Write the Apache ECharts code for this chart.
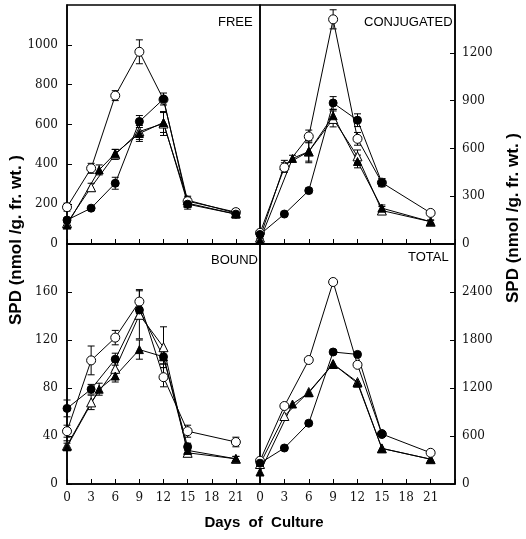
<!DOCTYPE html>
<html>
<head>
<meta charset="utf-8">
<script src="https://cdn.jsdelivr.net/npm/echarts@6/dist/echarts.min.js"></script>
<style>
html,body{margin:0;padding:0;background:#fff;}
#chart{width:526px;height:539px;}
</style>
</head>
<body>
<div id="chart"></div>
<script>
// ---- data ----
const days = [0, 3, 6, 9, 12, 15, 21];
const daysFilledTriangle = [0, 4, 6, 9, 12, 15, 21];
const xTickLabels = ['0', '3', '6', '9', '12', '15', '18', '21'];

// FREE
const freeOpenCircle = [185, 380, 745, 965, 725, 215, 160];
const freeOpenCircleErr = [20, 25, 25, 60, 0, 20, 15];
const freeFilledCircle = [120, 180, 305, 615, 728, 200, 150];
const freeFilledCircleErr = [10, 5, 30, 30, 30, 25, 10];
const freeOpenTriangle = [105, 285, 450, 565, 605, 220, 155];
const freeOpenTriangleErr = [15, 20, 25, 40, 60, 20, 10];
const freeFilledTriangle = [95, 372, 455, 555, 610, 205, 150];
const freeFilledTriangleErr = [10, 25, 20, 40, 50, 20, 10];

// CONJUGATED
const conjOpenCircle = [70, 480, 675, 1410, 660, 385, 195];
const conjOpenCircleErr = [15, 30, 40, 60, 40, 25, 10];
const conjFilledCircle = [60, 188, 335, 885, 777, 385, null];
const conjFilledCircleErr = [10, 15, 15, 40, 40, 25, 0];
const conjOpenTriangle = [40, 495, 580, 785, 550, 210, 140];
const conjOpenTriangleErr = [10, 30, 70, 50, 40, 25, 10];
const conjFilledTriangle = [25, 537, 580, 805, 518, 225, 140];
const conjFilledTriangleErr = [10, 20, 60, 40, 40, 20, 10];

// BOUND
const boundOpenCircle = [44, 103, 122, 152, 89, 44, 35];
const boundOpenCircleErr = [5, 12, 6, 10, 8, 5, 4];
const boundFilledCircle = [63, 79, 104, 145, 106, 31, null];
const boundFilledCircleErr = [7, 4, 5, 6, 6, 3, 0];
const boundOpenTriangle = [32, 68, 96, 141, 114, 26, 21];
const boundOpenTriangleErr = [4, 6, 8, 20, 17, 3, 2];
const boundFilledTriangle = [31, 79, 90, 112, 106, 28, 21];
const boundFilledTriangleErr = [3, 5, 5, 8, 6, 3, 2];

// TOTAL
const totalOpenCircle = [290, 975, 1550, 2525, 1490, 625, 390];
const totalFilledCircle = [260, 450, 760, 1650, 1620, 625, null];
const totalOpenTriangle = [250, 850, 1150, 1500, 1275, 445, 310];
const totalFilledTriangle = [150, 1000, 1140, 1500, 1260, 445, 310];

// axis ranges / ticks
const yFree = { max: 1200, interval: 200 };
const yConj = { max: 1500, interval: 300 };
const yBound = { max: 200, interval: 40 };
const yTotal = { max: 3000, interval: 600 };

// ---- chart ----
const chart = echarts.init(document.getElementById('chart'), null, { renderer: 'canvas' });

const grids = [
  { left: 67, top: 5, width: 193, height: 239 },
  { left: 260, top: 5, width: 195, height: 239 },
  { left: 67, top: 244, width: 193, height: 240 },
  { left: 260, top: 244, width: 195, height: 240 }
].map(g => Object.assign({ show: true, borderColor: '#000', borderWidth: 1.5, backgroundColor: 'transparent' }, g));

const tickFont = { fontFamily: 'DejaVu Serif', fontSize: 12, color: '#111' };

const xAxes = grids.map((g, i) => ({
  type: 'value', gridIndex: i, min: 0, max: 24, interval: 3,
  axisLine: { show: true, onZero: false, lineStyle: { color: '#000', width: 1.5 } },
  axisTick: { show: true, inside: true, length: 5, lineStyle: { color: '#000', width: 1 } },
  splitLine: { show: false },
  axisLabel: Object.assign({
    show: i >= 2, margin: 8,
    formatter: v => (v === 24 ? '' : String(v))
  }, tickFont)
}));

const yDefs = [yFree, yConj, yBound, yTotal];
const yAxes = yDefs.map((d, i) => ({
  type: 'value', gridIndex: i, min: 0, max: d.max, interval: d.interval,
  position: (i % 2 === 0) ? 'left' : 'right',
  axisLine: { show: true, onZero: false, lineStyle: { color: '#000', width: 1.5 } },
  axisTick: { show: true, inside: true, length: 5, lineStyle: { color: '#000', width: 1 } },
  splitLine: { show: false },
  axisLabel: Object.assign({
    showMaxLabel: false, margin: (i % 2 === 0) ? 9 : 7,
    formatter: v => String(v)
  }, tickFont)
}));

const styles = {
  openCircle: { symbol: 'circle', symbolSize: 9, fill: '#fff' },
  filledCircle: { symbol: 'circle', symbolSize: 8, fill: '#000' },
  openTriangle: { symbol: 'triangle', symbolSize: 9, fill: '#fff' },
  filledTriangle: { symbol: 'triangle', symbolSize: 8, fill: '#000' }
};

const panels = [
  { // FREE
    openTriangle: [freeOpenTriangle, freeOpenTriangleErr],
    filledTriangle: [freeFilledTriangle, freeFilledTriangleErr],
    openCircle: [freeOpenCircle, freeOpenCircleErr],
    filledCircle: [freeFilledCircle, freeFilledCircleErr]
  },
  { // CONJUGATED
    openTriangle: [conjOpenTriangle, conjOpenTriangleErr],
    filledTriangle: [conjFilledTriangle, conjFilledTriangleErr],
    openCircle: [conjOpenCircle, conjOpenCircleErr],
    filledCircle: [conjFilledCircle, conjFilledCircleErr]
  },
  { // BOUND
    openTriangle: [boundOpenTriangle, boundOpenTriangleErr],
    filledTriangle: [boundFilledTriangle, boundFilledTriangleErr],
    openCircle: [boundOpenCircle, boundOpenCircleErr],
    filledCircle: [boundFilledCircle, boundFilledCircleErr]
  },
  { // TOTAL
    openTriangle: [totalOpenTriangle, null],
    filledTriangle: [totalFilledTriangle, null],
    openCircle: [totalOpenCircle, null],
    filledCircle: [totalFilledCircle, null]
  }
];

function errorBarRender(params, api) {
  const x = api.value(0), y = api.value(1), e = api.value(2);
  const lo = api.coord([x, y - e]);
  const hi = api.coord([x, y + e]);
  const w = 3.5;
  const st = { stroke: '#000', lineWidth: 1 };
  return {
    type: 'group',
    children: [
      { type: 'line', shape: { x1: lo[0], y1: lo[1], x2: hi[0], y2: hi[1] }, style: st },
      { type: 'line', shape: { x1: lo[0] - w, y1: lo[1], x2: lo[0] + w, y2: lo[1] }, style: st },
      { type: 'line', shape: { x1: hi[0] - w, y1: hi[1], x2: hi[0] + w, y2: hi[1] }, style: st }
    ]
  };
}

const series = [];
panels.forEach((p, i) => {
  Object.keys(p).forEach(key => {
    const [vals, errs] = p[key];
    const xs = key === 'filledTriangle' ? daysFilledTriangle : days;
    const s = styles[key];
    if (errs) {
      const ed = [];
      vals.forEach((v, k) => { if (v != null && errs[k] > 0) ed.push([xs[k], v, errs[k]]); });
      series.push({
        type: 'custom', xAxisIndex: i, yAxisIndex: i, z: 1, silent: true,
        renderItem: errorBarRender, encode: { x: 0, y: 1 }, data: ed
      });
    }
    series.push({
      type: 'line', xAxisIndex: i, yAxisIndex: i, z: 3,
      symbol: s.symbol, symbolSize: s.symbolSize, showAllSymbol: true,
      connectNulls: false, animation: false, silent: true,
      lineStyle: { color: '#000', width: 1 },
      itemStyle: { color: s.fill, borderColor: '#000', borderWidth: 1 },
      data: vals.map((v, k) => [xs[k], v])
    });
  });
});

const yTitle = 'SPD (nmol /g. fr. wt. )';
const titleFont = { fontFamily: 'Liberation Sans, Arial, sans-serif', fontWeight: 'bold', fill: '#000' };
const panelFont = 'normal 13px Liberation Sans, Arial, sans-serif';

const option = {
  backgroundColor: '#fff',
  animation: false,
  grid: grids,
  xAxis: xAxes,
  yAxis: yAxes,
  series: series,
  graphic: [
    { type: 'text', left: 218, top: 16, style: { text: 'FREE', font: panelFont, fill: '#000' } },
    { type: 'text', left: 364, top: 16, style: { text: 'CONJUGATED', font: panelFont, fill: '#000' } },
    { type: 'text', left: 211, top: 254, style: { text: 'BOUND', font: panelFont, fill: '#000' } },
    { type: 'text', left: 408, top: 251, style: { text: 'TOTAL', font: panelFont, fill: '#000' } },
    { type: 'text', x: 16, y: 240, rotation: Math.PI / 2,
      style: Object.assign({ text: yTitle, fontSize: 17, align: 'center', verticalAlign: 'middle' }, titleFont) },
    { type: 'text', x: 513, y: 218, rotation: Math.PI / 2,
      style: Object.assign({ text: yTitle, fontSize: 17, align: 'center', verticalAlign: 'middle' }, titleFont) },
    { type: 'text', x: 264, y: 523,
      style: Object.assign({ text: 'Days  of  Culture', fontSize: 15, align: 'center', verticalAlign: 'middle' }, titleFont) }
  ]
};
chart.setOption(option);
</script>
</body>
</html>
